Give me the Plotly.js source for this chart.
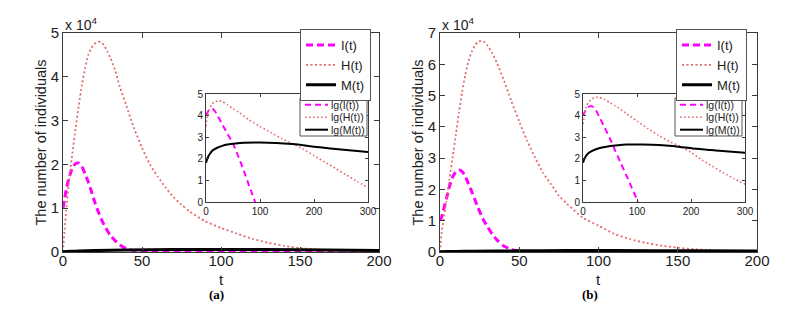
<!DOCTYPE html>
<html>
<head>
<meta charset="utf-8">
<script src="https://cdn.plot.ly/plotly-3.0.1.min.js"></script>
<style>
html,body{margin:0;padding:0;background:#fff;}
#chart{width:798px;height:310px;}
</style>
</head>
<body>
<div id="chart"></div>
<script>
// ---------- Panel (a): main plot (values in units of 10^4) ----------
const tA = [0,1,2,4,6,8,10,12,14,16,18,20,22,24,26,28,30,33,36,40,45,50,55,60,65,70,75,80,90,100,110,120,130,140,150,160,170,180,190,200];
const IA = [1.0,1.2,1.42,1.72,1.92,2.02,2.03,1.95,1.78,1.6,1.38,1.15,0.95,0.77,0.62,0.49,0.38,0.26,0.16,0.08,0.03,0.01,0.005,0.002,0.001,0,0,0,0,0,0,0,0,0,0,0,0,0,0,0];
const HA = [0,0.5,0.95,1.68,2.27,2.83,3.35,3.82,4.2,4.5,4.66,4.75,4.8,4.79,4.72,4.58,4.43,4.15,3.77,3.35,2.82,2.38,2.0,1.72,1.47,1.25,1.08,0.93,0.7,0.55,0.42,0.3,0.21,0.14,0.09,0.06,0.04,0.025,0.015,0.01];
const tMA = [0,5,10,20,40,70,100,150,200];
const MA = [0.007,0.015,0.02,0.032,0.046,0.055,0.056,0.052,0.036];

// ---------- Panel (a): inset (lg scale) ----------
const tLgIA = [0,4,8,12,16,20,30,40,50,60,70,80,91];
const lgIA = [4.0,4.2,4.3,4.32,4.22,4.07,3.6,3.15,2.7,2.1,1.45,0.75,0];
const tLgHA = [0,3,6,10,15,23,30,40,50,60,80,100,120,140,160,180,200,220,240,260,280,300];
const lgHA = [3.5,4.0,4.3,4.5,4.62,4.69,4.65,4.5,4.32,4.16,3.8,3.5,3.22,2.94,2.7,2.45,2.15,1.85,1.55,1.25,0.95,0.66];
const tLgMA = [0,3,7,12,20,30,40,55,70,100,130,160,180,200,230,260,300];
const lgMA = [1.82,2.05,2.22,2.38,2.5,2.6,2.66,2.71,2.74,2.75,2.73,2.68,2.63,2.56,2.48,2.41,2.31];

// ---------- Panel (b): main plot (values in units of 10^4) ----------
const tB = [0,1,2,4,6,8,10,12,14,16,18,20,22,24,26,28,30,33,36,40,45,50,55,60,65,70,75,80,90,100,110,120,130,140,150,160,170,180,190,200];
const IB = [1.0,1.12,1.3,1.7,2.1,2.4,2.56,2.62,2.57,2.41,2.17,1.93,1.67,1.42,1.18,0.97,0.8,0.57,0.38,0.2,0.08,0.03,0.01,0.004,0.001,0,0,0,0,0,0,0,0,0,0,0,0,0,0,0];
const HB = [0,0.6,0.95,1.62,2.33,3.05,3.75,4.47,5.13,5.68,6.1,6.4,6.6,6.72,6.75,6.71,6.6,6.35,6.03,5.53,4.83,4.17,3.55,3.02,2.53,2.17,1.8,1.55,1.1,0.84,0.58,0.41,0.29,0.2,0.14,0.09,0.06,0.04,0.03,0.02];
const tMB = [0,5,10,20,50,80,110,160,200];
const MB = [0.007,0.013,0.018,0.026,0.038,0.046,0.046,0.04,0.032];

// ---------- Panel (b): inset (lg scale) ----------
const tLgIB = [0,4,8,14,20,25,30,40,50,60,70,80,90,102];
const lgIB = [4.0,4.2,4.36,4.45,4.38,4.2,3.95,3.45,2.93,2.35,1.8,1.25,0.68,0];
const tLgHB = [0,3,6,10,15,20,28,40,50,60,80,100,120,140,160,180,200,220,240,260,280,300];
const lgHB = [3.6,4.1,4.4,4.6,4.74,4.81,4.85,4.75,4.6,4.45,4.1,3.75,3.4,3.08,2.8,2.58,2.3,1.95,1.65,1.35,1.08,0.82];
const tLgMB = [0,3,7,11,17,23,35,48,65,80,110,140,160,180,203,230,246,270,300];
const lgMB = [1.82,2.02,2.18,2.28,2.37,2.43,2.52,2.58,2.63,2.66,2.66,2.64,2.6,2.55,2.48,2.42,2.38,2.34,2.28];

// tick labels and texts
const mainXTicks = [0,50,100,150,200];
const mainYTicksA = [0,1,2,3,4,5];
const mainYTicksB = [0,1,2,3,4,5,6,7];
const insetXTicks = [0,100,200,300];
const insetYTicks = [0,1,2,3,4,5];
const mainNames = ['I(t)','H(t)','M(t)'];
const insetNames = ['lg(I(t))','lg(H(t))','lg(M(t))'];
const xTitle = 't';
const yTitle = 'The number of individuals';
const panelLabels = ['(a)','(b)'];

// ---------- styling ----------
const W = 798, H = 310;
const px = v => v / W;
const py = v => 1 - v / H;
const FONT = 'Liberation Sans, Arial, sans-serif';
const MAG = '#ff00ff', RED = '#e36c6c', BLK = '#000000';
const styleI = {color: MAG, width: 3, dash: '7px,4px'};
const styleH = {color: RED, width: 1.8, dash: '2px,2.5px'};
const styleM = {color: BLK, width: 3};
const styleIi = {color: MAG, width: 2, dash: '6px,4px'};
const styleHi = {color: RED, width: 1.6, dash: '1.6px,2.4px'};
const styleMi = {color: BLK, width: 2};

function tr(x, y, name, line, xa, ya, legend, show) {
  return {x: x, y: y, name: name, type: 'scatter', mode: 'lines',
    line: Object.assign({shape: 'spline', smoothing: 0.6}, line),
    xaxis: xa, yaxis: ya, legend: legend, showlegend: show, hoverinfo: 'skip'};
}

const data = [
  tr(tA, IA, mainNames[0], styleI, 'x', 'y', 'legend', true),
  tr(tA, HA, mainNames[1], styleH, 'x', 'y', 'legend', true),
  tr(tMA, MA, mainNames[2], styleM, 'x', 'y', 'legend', true),
  tr(tB, IB, mainNames[0], styleI, 'x2', 'y2', 'legend2', true),
  tr(tB, HB, mainNames[1], styleH, 'x2', 'y2', 'legend2', true),
  tr(tMB, MB, mainNames[2], styleM, 'x2', 'y2', 'legend2', true),
  tr(tLgIA, lgIA, insetNames[0], styleIi, 'x3', 'y3', 'legend', false),
  tr(tLgHA, lgHA, insetNames[1], styleHi, 'x3', 'y3', 'legend', false),
  tr(tLgMA, lgMA, insetNames[2], styleMi, 'x3', 'y3', 'legend', false),
  tr(tLgIB, lgIB, insetNames[0], styleIi, 'x4', 'y4', 'legend', false),
  tr(tLgHB, lgHB, insetNames[1], styleHi, 'x4', 'y4', 'legend', false),
  tr(tLgMB, lgMB, insetNames[2], styleMi, 'x4', 'y4', 'legend', false)
];

function axis(domain, range, ticks, fs, tl, anchor, extra) {
  const a = {domain: domain, range: range, tickvals: ticks, ticktext: ticks.map(String),
    showline: true, linecolor: '#3a3a3a', linewidth: 1, mirror: 'ticks',
    ticks: 'inside', ticklen: tl, tickcolor: '#3a3a3a', tickwidth: 1,
    showgrid: false, zeroline: false, anchor: anchor, fixedrange: true,
    tickfont: {family: FONT, size: fs, color: '#222'}};
  return Object.assign(a, extra || {});
}

const mainYDom = [py(252), py(33)];
const insetYDom = [py(202), py(94)];
const yTitleObj = {text: yTitle, font: {family: FONT, size: 14.5, color: '#222'}, standoff: 0};

const layout = {
  width: W, height: H,
  margin: {l: 0, r: 0, t: 0, b: 0},
  paper_bgcolor: '#fff', plot_bgcolor: '#fff',
  font: {family: FONT, color: '#222'},
  xaxis: axis([px(63), px(379)], [0, 200], mainXTicks, 15, 5, 'y', {ticklabelstandoff: -5}),
  yaxis: axis(mainYDom, [0, 5], mainYTicksA, 15, 5, 'x', {title: yTitleObj}),
  xaxis2: axis([px(440), px(757)], [0, 200], mainXTicks, 15, 5, 'y2', {ticklabelstandoff: -5}),
  yaxis2: axis(mainYDom, [0, 7], mainYTicksB, 15, 5, 'x2', {title: yTitleObj}),
  xaxis3: axis([px(206), px(368)], [0, 300], insetXTicks, 10, 3, 'y3'),
  yaxis3: axis(insetYDom, [0, 5], insetYTicks, 10, 3, 'x3'),
  xaxis4: axis([px(583), px(745)], [0, 300], insetXTicks, 10, 3, 'y4'),
  yaxis4: axis(insetYDom, [0, 5], insetYTicks, 10, 3, 'x4'),
  legend: {x: px(371), xanchor: 'right', y: py(29), yanchor: 'top',
    bgcolor: '#fff', bordercolor: '#555', borderwidth: 1, tracegroupgap: 0,
    font: {family: FONT, size: 13, color: '#222'}},
  legend2: {x: px(747), xanchor: 'right', y: py(29), yanchor: 'top',
    bgcolor: '#fff', bordercolor: '#555', borderwidth: 1, tracegroupgap: 0,
    font: {family: FONT, size: 13, color: '#222'}},
  shapes: [],
  annotations: []
};

// compact legends for the insets
function insetLegend(x0, x1, y0, y1, sx0, sx1, tx) {
  layout.shapes.push({type: 'rect', xref: 'paper', yref: 'paper',
    x0: px(x0), x1: px(x1), y0: py(y1), y1: py(y0),
    fillcolor: '#fff', line: {color: '#555', width: 1}, layer: 'above'});
  const rows = [y0 + 6.7, y0 + 19.3, y0 + 31.7];
  const styles = [styleIi, styleHi, styleMi];
  rows.forEach((ry, i) => {
    layout.shapes.push({type: 'line', xref: 'paper', yref: 'paper',
      x0: px(sx0), x1: px(sx1), y0: py(ry), y1: py(ry),
      line: Object.assign({}, styles[i]), layer: 'above'});
    layout.annotations.push({xref: 'paper', yref: 'paper', x: px(tx), y: py(ry),
      xanchor: 'left', yanchor: 'middle', showarrow: false, text: insetNames[i],
      font: {family: FONT, size: 10.5, color: '#222'}});
  });
}
insetLegend(300, 367, 98, 136, 305, 328, 329);
insetLegend(675, 742, 98, 136, 680, 703, 704);

// x-axis titles, x 10^4 multipliers and panel labels
[221, 598].forEach(x => {
  layout.annotations.push({xref: 'paper', yref: 'paper', x: px(x), y: py(279),
    xanchor: 'center', yanchor: 'middle', showarrow: false,
    text: xTitle, font: {family: FONT, size: 15, color: '#222'}});
});
[63, 440].forEach(x => {
  layout.annotations.push({xref: 'paper', yref: 'paper', x: px(x), y: py(24),
    xanchor: 'left', yanchor: 'middle', showarrow: false,
    text: 'x 10<sup>4</sup>', font: {family: FONT, size: 14, color: '#222'}});
});
[216, 590].forEach((x, i) => {
  layout.annotations.push({xref: 'paper', yref: 'paper', x: px(x), y: py(294),
    xanchor: 'center', yanchor: 'middle', showarrow: false,
    text: '<b>' + panelLabels[i] + '</b>', font: {family: 'Liberation Serif, Times New Roman, serif', size: 13, color: '#000'}});
});

Plotly.newPlot('chart', data, layout, {staticPlot: true, displayModeBar: false});
</script>
</body>
</html>
